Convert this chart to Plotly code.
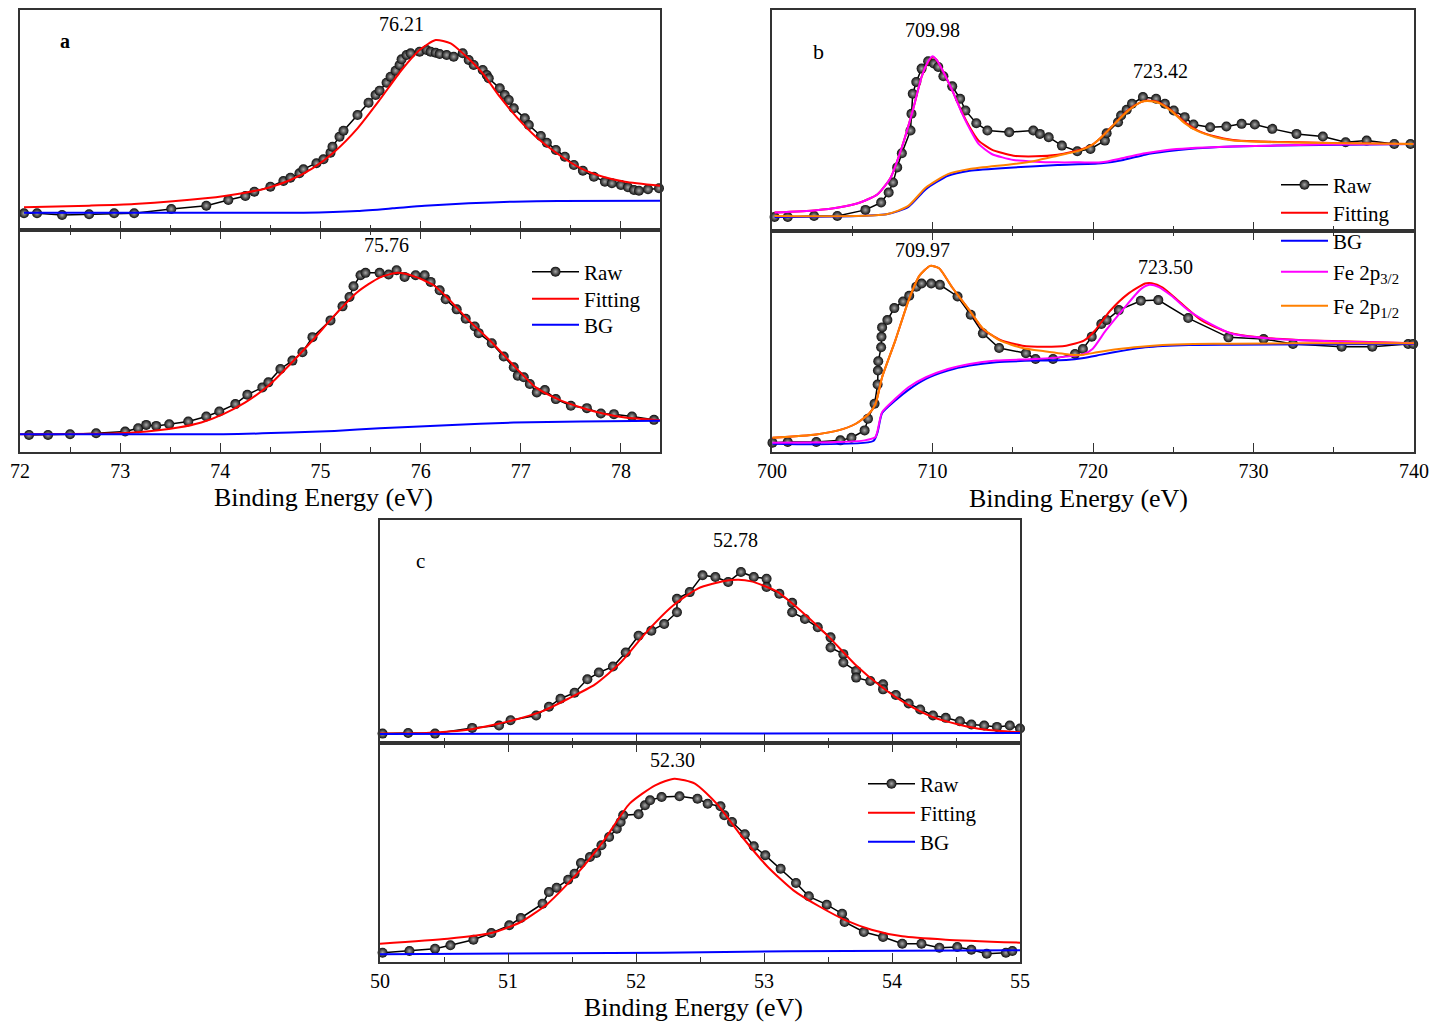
import plotly.graph_objects as go

# ================= DATA (binding energy in eV, intensity in a.u.) =================
# ---- Panel a, top spectrum ----
a1_raw_e = [72.04,72.17,72.42,72.69,72.94,73.14,73.51,73.86,74.08,74.25,74.34,74.50,74.63,74.70,74.79,74.83,74.96,75.03,75.10,75.12,
            75.19,75.23,75.37,75.48,75.55,75.59,75.66,75.70,75.75,75.79,75.81,75.86,75.90,75.99,76.06,76.10,76.15,76.19,76.26,76.33,
            76.42,76.48,76.53,76.62,76.66,76.68,76.79,76.84,76.88,76.93,77.04,77.08,77.20,77.26,77.35,77.44,77.53,77.62,77.73,77.84,
            77.91,78.00,78.07,78.13,78.18,78.27,78.38]
a1_raw_i = [50,50,45,47,50,50,63,73,90,102,115,130,147,157,170,182,200,212,232,250,
            280,298,345,382,405,418,442,460,478,495,512,525,530,535,540,535,532,528,525,520,
            530,510,495,480,465,455,425,405,390,365,335,315,282,262,240,220,195,178,160,145,
            140,135,128,120,118,122,125]
a1_fit_e = [72.04,72.69,73.14,73.85,74.25,74.48,74.70,74.92,75.14,75.37,75.59,75.81,75.99,76.15,76.30,76.44,76.62,76.79,76.97,77.15,
            77.37,77.60,77.82,78.04,78.39]
a1_fit_i = [68,73,78,95,112,127,150,185,235,305,390,480,540,570,560,525,470,400,335,280,228,185,160,145,133]
a1_bg_e = [72.04,74.83,75.37,75.72,76.04,76.48,76.93,77.37,78.39]
a1_bg_i = [52,52,57,65,73,80,85,87,88]

# ---- Panel a, bottom spectrum ----
a2_raw_e = [72.09,72.28,72.50,72.76,73.05,73.18,73.26,73.36,73.49,73.68,73.86,73.99,74.15,74.27,74.42,74.48,74.60,74.72,74.82,74.92,
            75.10,75.22,75.29,75.33,75.40,75.45,75.59,75.68,75.76,75.84,75.95,76.04,76.10,76.19,76.25,76.36,76.45,76.54,76.58,76.71,
            76.83,76.93,76.97,77.03,77.09,77.16,77.24,77.35,77.50,77.66,77.80,77.93,78.11,78.33]
a2_raw_i = [51,51,53,56,61,71,81,78,83,91,106,121,143,171,193,208,248,273,298,343,
            393,435,463,495,528,535,535,530,543,523,528,528,508,483,456,426,398,375,355,325,
            285,253,228,223,203,178,185,158,138,131,115,113,106,96]
a2_fit_e = [72.00,72.91,73.14,73.58,73.81,74.03,74.25,74.48,74.70,74.92,75.14,75.37,75.59,75.77,75.95,76.13,76.26,76.48,76.71,76.93,
            77.15,77.37,77.60,77.82,78.04,78.39]
a2_fit_i = [53,55,58,73,88,113,148,198,263,333,408,478,521,535,523,498,463,393,328,258,193,158,133,115,103,95]
a2_bg_e = [72.00,74.03,74.70,75.14,75.59,76.26,76.93,77.60,78.39]
a2_bg_i = [53,53,58,63,71,80,88,91,93]

# ---- Panel b, top spectrum ----
b1_raw_e = [700.16,700.98,702.62,704.07,705.82,706.80,707.27,707.54,707.80,708.09,708.63,708.69,708.77,708.99,709.32,709.73,710.08,710.36,710.68,711.23,
            711.72,712.05,712.73,713.42,714.78,716.28,716.69,717.24,718.06,719.02,719.84,720.74,720.85,721.56,721.75,722.10,722.43,723.11,723.93,724.48,
            725.03,725.71,726.26,727.30,728.31,729.26,730.08,731.17,732.68,734.32,735.74,737.05,738.77,739.78]
b1_raw_i = [42,42,45,45,63,85,115,145,190,232,300,350,410,445,485,507,500,490,462,432,
            395,360,322,300,295,300,290,280,255,238,245,270,292,325,345,362,380,400,395,380,
            360,340,318,310,312,320,318,305,290,282,265,270,260,260]
b1_fit_e = [700.16,702.76,704.13,705.49,706.58,707.40,708.09,708.77,709.32,709.73,710.00,710.27,710.68,711.23,711.78,712.32,712.87,713.69,715.05,716.42,
            717.79,719.15,719.97,720.52,721.34,722.16,722.98,723.39,724.07,724.89,725.71,726.53,727.62,728.72,730.08,732.81,735.55,739.97]
b1_fit_i = [55,62,70,85,110,160,250,360,460,505,520,510,475,420,360,310,270,243,225,223,
            228,242,258,280,320,360,385,390,385,360,325,300,282,272,268,265,262,260]
b1_p32_e = [700.16,702.76,704.13,705.49,706.58,707.40,708.09,708.77,709.32,709.73,710.00,710.27,710.68,711.23,711.78,712.32,712.87,713.69,715.05,716.42,
            717.79,719.15,720.52,721.89,723.25,724.62,725.98,728.72,731.45,734.18,739.97]
b1_p32_i = [55,62,70,85,110,160,250,360,460,507,522,510,475,420,358,305,260,230,212,207,
            205,205,205,218,232,242,247,252,255,258,260]
b1_p12_e = [700.16,707.13,708.49,709.59,710.96,712.32,715.05,716.42,717.79,719.15,719.97,720.52,721.34,722.16,722.98,723.39,724.07,724.89,725.71,726.53,
            727.62,728.72,731.45,735.55,739.97]
b1_p12_i = [45,50,75,130,170,185,200,210,225,240,258,280,320,358,385,388,383,358,322,298,
            280,270,265,262,260]
b1_bg_e = [700.16,707.13,708.50,709.59,710.96,712.32,715.05,717.79,720.52,721.89,723.25,724.62,725.98,728.72,731.45,734.18,739.97]
b1_bg_i = [42,50,72,125,165,180,190,197,202,212,228,238,245,252,255,257,260]

# ---- Panel b, bottom spectrum ----
b2_raw_e = [700.03,700.98,702.76,704.26,704.95,705.77,705.98,706.39,706.58,706.60,706.62,706.80,706.82,706.86,707.19,707.62,708.17,708.55,708.99,709.32,
            709.92,710.46,711.56,712.38,713.14,714.15,715.82,716.42,717.51,718.88,719.37,719.92,720.52,720.85,721.61,722.98,724.07,725.93,728.44,730.63,
            732.46,735.49,737.40,739.64,739.95]
b2_raw_i = [28,30,30,35,43,65,100,145,203,245,273,315,347,375,397,433,453,470,497,507,
            507,503,468,413,357,313,297,280,280,295,310,347,385,397,427,455,457,403,345,340,
            325,317,317,325,325]
b2_fit_e = [700.03,702.76,704.13,705.22,706.04,706.45,706.86,707.68,708.50,709.18,709.86,710.41,711.23,712.32,713.14,714.23,715.60,716.97,718.33,719.43,
            720.11,721.07,722.16,723.25,723.66,724.34,725.44,726.80,728.44,730.36,732.81,735.55,740.00]
b2_fit_i = [43,53,65,85,115,145,225,335,455,530,560,553,495,425,370,337,320,317,320,335,
            365,425,475,507,508,495,450,395,360,345,337,333,327]
b2_p32_e = [700.03,704.13,705.77,706.45,706.58,706.86,707.68,708.50,709.59,710.96,712.32,713.96,716.42,718.33,719.43,719.97,720.79,721.89,722.98,723.52,
            724.07,724.89,725.98,727.35,728.72,731.45,735.55,740.00]
b2_p32_i = [28,30,35,45,65,120,160,195,225,250,265,275,280,287,295,310,365,430,490,503,
            497,470,425,385,355,340,332,327]
b2_p12_e = [700.03,702.76,704.13,705.22,706.04,706.45,706.86,707.68,708.50,709.18,709.86,710.41,711.23,712.32,713.14,714.23,715.60,716.97,718.60,719.43,
            720.25,721.61,722.98,724.34,726.26,728.72,732.81,740.00]
b2_p12_i = [43,53,65,85,115,145,225,335,455,530,560,553,495,425,372,335,313,303,293,293,
            300,310,317,322,325,326,327,327]
b2_bg_e = [700.03,706.31,706.58,706.86,707.68,708.50,709.59,710.96,712.32,713.96,716.42,718.33,719.43,720.52,721.89,723.25,725.98,728.72,740.00]
b2_bg_i = [25,33,60,117,155,187,220,245,260,270,275,277,283,293,305,315,322,323,325]

# ---- Panel c, top spectrum ----
c1_raw_e = [50.02,50.22,50.43,50.72,50.93,51.02,51.22,51.32,51.41,51.52,51.62,51.71,51.82,51.92,52.02,52.12,52.22,52.32,52.32,52.42,
            52.52,52.62,52.72,52.82,52.92,53.02,53.02,53.12,53.22,53.22,53.32,53.42,53.52,53.52,53.62,53.62,53.72,53.72,53.83,53.93,
            53.93,54.03,54.13,54.22,54.32,54.42,54.53,54.62,54.72,54.82,54.92,55.00]
c1_raw_i = [28,30,28,45,52,68,82,108,132,150,190,210,228,270,320,335,355,390,430,450,
            500,495,480,510,495,490,465,445,418,390,370,345,315,285,265,240,215,195,185,175,
            160,143,118,100,82,75,65,55,52,48,52,43]
c1_fit_e = [50.00,50.36,50.70,51.04,51.27,51.47,51.68,51.88,52.08,52.29,52.49,52.69,52.80,52.90,53.10,53.30,53.51,53.71,53.91,54.12,
            54.32,54.52,54.72,55.00]
c1_fit_i = [28,30,40,68,95,132,175,240,330,410,462,483,487,482,452,390,315,235,170,115,77,55,40,32]
c1_bg_e = [50.00,52.50,55.00]
c1_bg_i = [27,28,30]

# ---- Panel c, bottom spectrum ----
c2_raw_e = [50.02,50.23,50.43,50.55,50.73,50.87,51.01,51.10,51.27,51.32,51.38,51.47,51.52,51.57,51.64,51.69,51.73,51.79,51.85,51.88,
            51.90,52.02,52.07,52.11,52.20,52.34,52.48,52.56,52.66,52.69,52.75,52.85,52.92,53.01,53.13,53.25,53.35,53.49,53.61,53.63,
            53.78,53.93,54.08,54.23,54.37,54.51,54.62,54.74,54.89,54.94]
c2_raw_i = [28,33,40,50,67,87,110,132,175,210,223,247,265,297,315,327,350,375,400,420,
            440,443,470,485,495,497,490,475,467,440,420,383,347,320,280,237,197,172,145,120,
            90,75,55,55,43,45,37,25,28,33]
c2_fit_e = [50.00,50.53,50.87,51.10,51.31,51.54,51.75,51.95,52.15,52.30,52.46,52.63,52.83,53.03,53.23,53.44,53.64,53.84,54.08,54.42,55.00]
c2_fit_i = [55,70,87,120,175,265,365,475,530,550,535,475,375,285,215,165,125,97,77,67,58]
c2_bg_e = [50.00,52.20,53.20,55.00]
c2_bg_i = [23,28,32,35]

# peak labels
a_labels = ["76.21", "75.76"]
b_labels = ["709.98", "723.42", "709.97", "723.50"]
c_labels = ["52.78", "52.30"]
x_title = "Binding Energy (eV)"

# ================= STYLE / LAYOUT =================
W, H = 1438, 1030
FONT = "Liberation Serif, 'Times New Roman', serif"
INK = "#333333"
RED, BLUE, MAG, ORA = "#ff0000", "#0000ff", "#ff00ff", "#ff8000"
LEG_W = 47  # legend sample length (px)


def px(x):
    return x / W


def py(y):
    return 1 - y / H


# subplot boxes in pixels (left, right, top, bottom)
boxes = [(20, 660, 10, 230), (20, 660, 230, 452),
         (772, 1414, 10, 231), (772, 1414, 231, 452),
         (380, 1020, 520, 743), (380, 1020, 743, 962)]
xranges = [[72, 78.39], [72, 78.39], [700, 740], [700, 740], [50, 55], [50, 55]]
yranges = [[0, 660], [0, 663], [0, 660], [0, 665], [0, 665], [0, 657]]
majors = [1, 1, 10, 10, 1, 1]
minors = [0.5, 0.5, 5, 5, 0.5, 0.5]
tick0s = [72, 72, 700, 700, 50, 50]

fig = go.Figure()
legend_specs = []  # (legend id, sample-left px, centre-y px)


def new_legend(x_left, y_center):
    lid = "legend" if not legend_specs else f"legend{len(legend_specs) + 1}"
    legend_specs.append((lid, x_left, y_center))
    return lid


def ax(k):
    return ("x" if k == 1 else f"x{k}"), ("y" if k == 1 else f"y{k}")


def raw(k, x, y, lg=None):
    xa, ya = ax(k)
    fig.add_trace(go.Scatter(
        x=x, y=y, mode="lines+markers", name="Raw", xaxis=xa, yaxis=ya,
        line=dict(color="black", width=1.5),
        marker=dict(size=10, color="#0d0d0d", line=dict(width=0),
                    gradient=dict(type="radial", color="#a8a8a8")),
        legend=lg or "legend", showlegend=lg is not None, cliponaxis=False, hoverinfo="skip"))


def curve(k, x, y, name, color, lg=None):
    xa, ya = ax(k)
    fig.add_trace(go.Scatter(
        x=x, y=y, mode="lines", name=name, xaxis=xa, yaxis=ya,
        line=dict(color=color, width=2, shape="spline", smoothing=0.6),
        legend=lg or "legend", showlegend=lg is not None, cliponaxis=False, hoverinfo="skip"))


# panel a
raw(1, a1_raw_e, a1_raw_i)
curve(1, a1_fit_e, a1_fit_i, "Fitting", RED)
curve(1, a1_bg_e, a1_bg_i, "BG", BLUE)
raw(2, a2_raw_e, a2_raw_i, new_legend(531, 272))
curve(2, a2_fit_e, a2_fit_i, "Fitting", RED, new_legend(531, 299))
curve(2, a2_bg_e, a2_bg_i, "BG", BLUE, new_legend(531, 325))

# panel b
raw(3, b1_raw_e, b1_raw_i)
curve(3, b1_fit_e, b1_fit_i, "Fitting", RED)
curve(3, b1_bg_e, b1_bg_i, "BG", BLUE)
curve(3, b1_p32_e, b1_p32_i, "Fe 2p<sub>3/2</sub>", MAG)
curve(3, b1_p12_e, b1_p12_i, "Fe 2p<sub>1/2</sub>", ORA)
raw(4, b2_raw_e, b2_raw_i, new_legend(1280, 185))
curve(4, b2_fit_e, b2_fit_i, "Fitting", RED, new_legend(1280, 213))
curve(4, b2_bg_e, b2_bg_i, "BG", BLUE, new_legend(1280, 241))
curve(4, b2_p32_e, b2_p32_i, "Fe 2p<sub>3/2</sub>", MAG, new_legend(1280, 272))
curve(4, b2_p12_e, b2_p12_i, "Fe 2p<sub>1/2</sub>", ORA, new_legend(1280, 306))

# panel c
raw(5, c1_raw_e, c1_raw_i)
curve(5, c1_fit_e, c1_fit_i, "Fitting", RED)
curve(5, c1_bg_e, c1_bg_i, "BG", BLUE)
raw(6, c2_raw_e, c2_raw_i, new_legend(867, 784))
curve(6, c2_fit_e, c2_fit_i, "Fitting", RED, new_legend(867, 813))
curve(6, c2_bg_e, c2_bg_i, "BG", BLUE, new_legend(867, 842))

layout = dict(width=W, height=H, margin=dict(l=0, r=0, t=0, b=0, autoexpand=False),
              paper_bgcolor="white", plot_bgcolor="rgba(0,0,0,0)",
              font=dict(family=FONT, size=20, color="black"), hovermode=False)

for k in range(1, 7):
    l, r, t, b = boxes[k - 1]
    bottom = (k % 2 == 0)
    xa, ya = ax(k)
    xname = "xaxis" if k == 1 else f"xaxis{k}"
    yname = "yaxis" if k == 1 else f"yaxis{k}"
    layout[xname] = dict(
        domain=[px(l), px(r)], anchor=ya, range=xranges[k - 1], automargin=False,
        showgrid=False, zeroline=False, showline=True, linecolor=INK, linewidth=1.5,
        mirror="ticks" if bottom else True,
        ticks="inside", ticklen=9, tickwidth=1.3, tickcolor=INK,
        tick0=tick0s[k - 1], dtick=majors[k - 1],
        minor=dict(ticks="inside", ticklen=5, tickwidth=1.2, tickcolor=INK,
                   dtick=minors[k - 1], tick0=tick0s[k - 1], showgrid=False),
        showticklabels=bottom, tickfont=dict(family=FONT, size=20, color="black"),
        ticklabelstandoff=0, fixedrange=True)
    layout[yname] = dict(
        domain=[py(b), py(t)], anchor=xa, range=yranges[k - 1], automargin=False,
        showgrid=False, zeroline=False, showline=True, linecolor=INK, linewidth=1.5,
        mirror=True, ticks="", showticklabels=False, fixedrange=True)

for lid, xl, yc in legend_specs:
    layout[lid] = dict(bgcolor="rgba(0,0,0,0)", borderwidth=0, xanchor="left", yanchor="middle",
                       x=px(xl - 4), y=py(yc), itemwidth=LEG_W,
                       font=dict(family=FONT, size=21, color="black"),
                       itemclick=False, itemdoubleclick=False)


def note(text, x, y, size=20, bold=False):
    return dict(text=f"<b>{text}</b>" if bold else text, x=px(x), y=py(y),
                xref="paper", yref="paper", showarrow=False, xanchor="center", yanchor="middle",
                font=dict(family=FONT, size=size, color="black"))


layout["annotations"] = [
    note(a_labels[0], 401, 24), note(a_labels[1], 386, 245), note("a", 65, 41, 20, True),
    note(b_labels[0], 932, 30), note(b_labels[1], 1160, 71), note("b", 818, 51, 22),
    note(b_labels[2], 922, 250), note(b_labels[3], 1165, 267),
    note(c_labels[0], 735, 540), note("c", 420, 561, 21), note(c_labels[1], 672, 760),
    note(x_title, 323, 497, 26), note(x_title, 1078, 499, 26), note(x_title, 693, 1007, 26),
]

fig.update_layout(layout)
fig.write_html("out.html")
